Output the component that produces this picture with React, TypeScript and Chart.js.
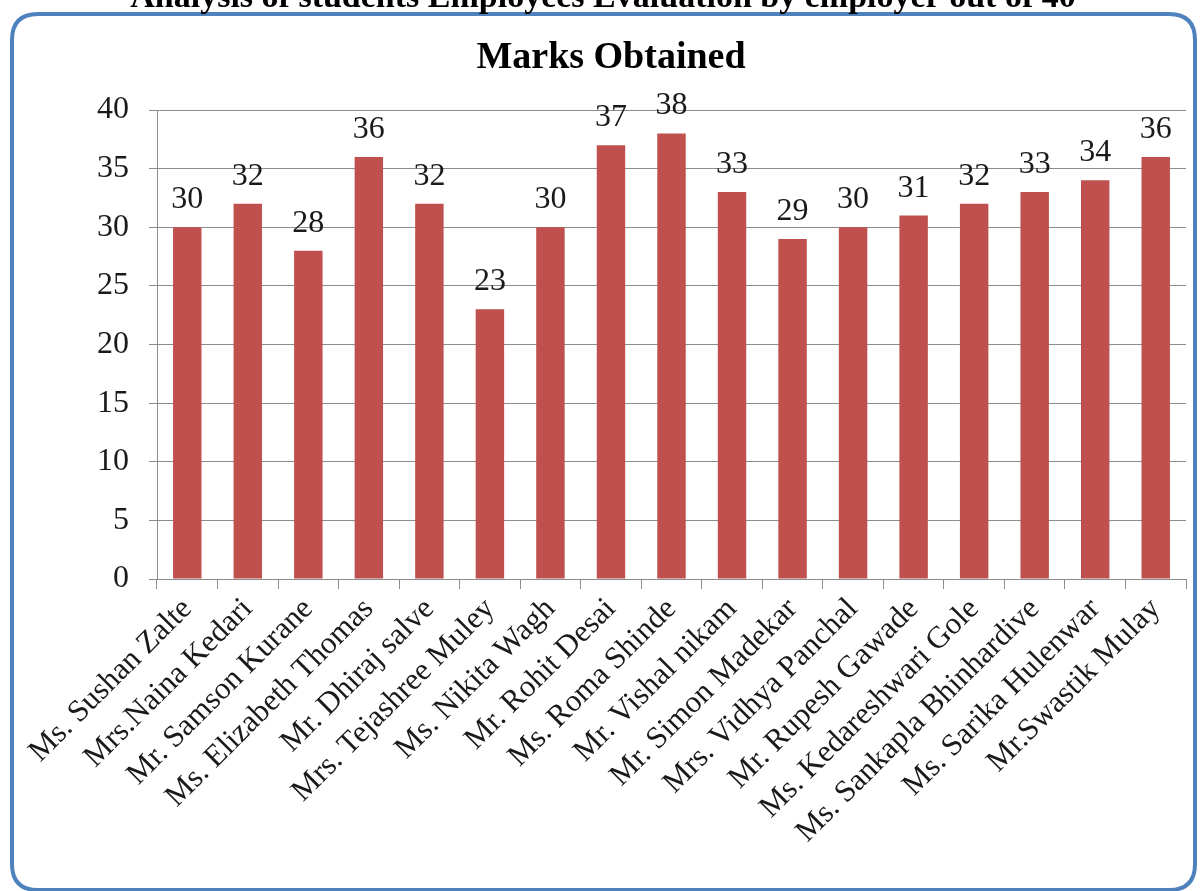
import React, { useEffect, useRef } from "react";
import { Chart, registerables } from "chart.js";

Chart.register(...registerables);

const names = [
  "Ms. Sushan Zalte",
  "Mrs.Naina Kedari",
  "Mr. Samson Kurane",
  "Ms. Elizabeth Thomas",
  "Mr. Dhiraj salve",
  "Mrs. Tejashree Muley",
  "Ms. Nikita Wagh",
  "Mr. Rohit Desai",
  "Ms. Roma Shinde",
  "Mr. Vishal nikam",
  "Mr. Simon Madekar",
  "Mrs. Vidhya Panchal",
  "Mr. Rupesh Gawade",
  "Ms. Kedareshwari Gole",
  "Ms. Sankapla Bhinhardive",
  "Ms. Sarika Hulenwar",
  "Mr.Swastik Mulay",
];

const marks = [30, 32, 28, 36, 32, 23, 30, 37, 38, 33, 29, 30, 31, 32, 33, 34, 36];

const chartTitle = "Marks Obtained";
const pageTitle = "Analysis of students Employees Evaluation by employer out of 40";

const SERIF = "'Liberation Serif', 'DejaVu Serif', serif";

const decorPlugin = {
  id: "decor",
  beforeDraw(chart: any) {
    const ctx = chart.ctx;
    ctx.save();
    ctx.fillStyle = "#ffffff";
    ctx.fillRect(0, 0, chart.width, chart.height);
    // rounded frame
    const x = 12, y = 14, w = 1183, h = 876, r = 26;
    ctx.strokeStyle = "#4F81BD";
    ctx.lineWidth = 4;
    ctx.beginPath();
    ctx.moveTo(x + r, y);
    ctx.lineTo(x + w - r, y);
    ctx.quadraticCurveTo(x + w, y, x + w, y + r);
    ctx.lineTo(x + w, y + h - r);
    ctx.quadraticCurveTo(x + w, y + h, x + w - r, y + h);
    ctx.lineTo(x + r, y + h);
    ctx.quadraticCurveTo(x, y + h, x, y + h - r);
    ctx.lineTo(x, y + r);
    ctx.quadraticCurveTo(x, y, x + r, y);
    ctx.closePath();
    ctx.stroke();
    ctx.fillStyle = "#000000";
    ctx.textAlign = "center";
    ctx.textBaseline = "alphabetic";
    // cropped page heading
    ctx.font = `bold 34px ${SERIF}`;
    ctx.fillText(pageTitle, 603, 7);
    // chart title
    ctx.font = `bold 38px ${SERIF}`;
    ctx.fillText(chartTitle, 611, 68);
    ctx.restore();
  },
  afterDatasetsDraw(chart: any) {
    const ctx = chart.ctx;
    const meta = chart.getDatasetMeta(0);
    ctx.save();
    ctx.fillStyle = "#1a1a1a";
    ctx.font = `32px ${SERIF}`;
    ctx.textAlign = "center";
    ctx.textBaseline = "alphabetic";
    meta.data.forEach((bar: any, i: number) => {
      ctx.fillText(String(marks[i]), bar.x, bar.y - 19);
    });
    ctx.restore();
  },
};

export default function App() {
  const ref = useRef<HTMLCanvasElement | null>(null);
  useEffect(() => {
    if (!ref.current) return;
    const chart = new Chart(ref.current, {
      type: "bar",
      data: {
        labels: names,
        datasets: [
          {
            data: marks,
            backgroundColor: "#C0504D",
            borderWidth: 0,
            barPercentage: 0.47,
            categoryPercentage: 1,
          },
        ],
      },
      options: {
        responsive: false,
        animation: false,
        layout: { padding: { top: 110, left: 0, right: 14, bottom: 0 } },
        plugins: {
          legend: { display: false },
          tooltip: { enabled: false },
          title: { display: false },
        },
        scales: {
          y: {
            min: 0,
            max: 40,
            ticks: {
              stepSize: 5,
              color: "#1a1a1a",
              font: { family: SERIF, size: 32 },
              padding: 20,
            },
            grid: { color: "#8c8c8c", tickLength: 8, lineWidth: 1 },
            border: { color: "#8c8c8c" },
            afterFit(scale: any) {
              scale.width = 157;
            },
          },
          x: {
            ticks: {
              color: "#1a1a1a",
              font: { family: SERIF, size: 31 },
              minRotation: 45,
              maxRotation: 45,
              autoSkip: false,
              padding: 2,
            },
            grid: {
              offset: true,
              drawOnChartArea: false,
              drawTicks: true,
              tickLength: 10,
              color: "#8c8c8c",
            },
            border: { color: "#8c8c8c" },
            afterFit(scale: any) {
              scale.height = 312;
            },
          },
        },
      },
      plugins: [decorPlugin],
    } as any);
    return () => chart.destroy();
  }, []);
  return (
    <canvas
      ref={ref}
      width={1200}
      height={891}
      style={{ position: "absolute", left: 0, top: 0, width: 1200, height: 891 }}
    />
  );
}
